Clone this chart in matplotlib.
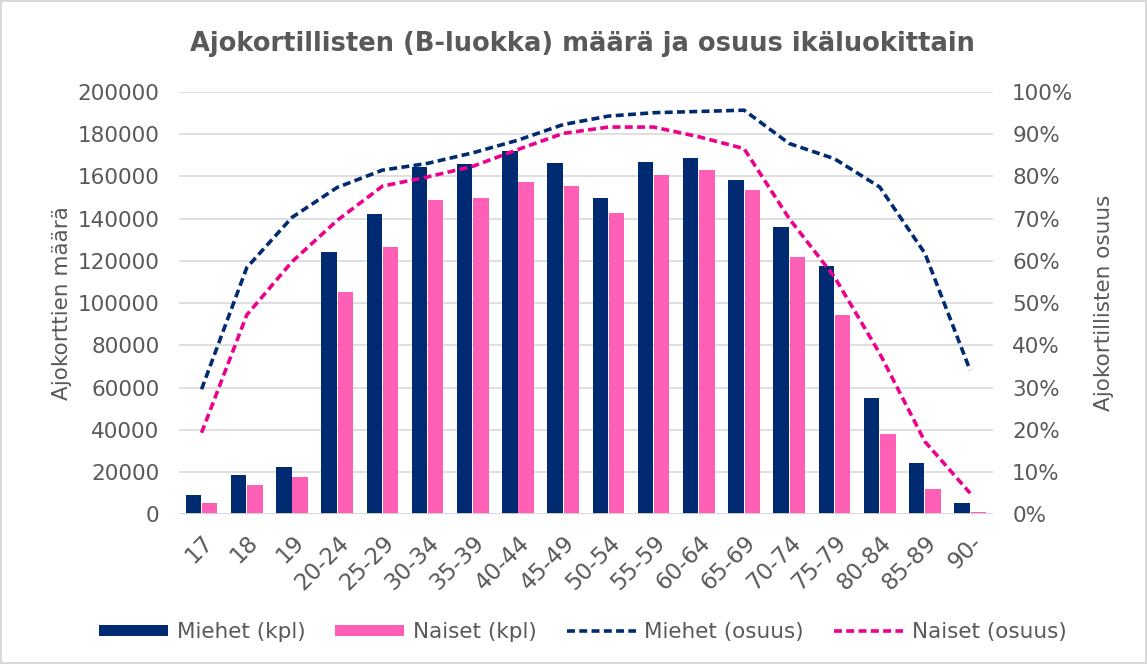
import numpy as np
import matplotlib.pyplot as plt
from matplotlib.ticker import FuncFormatter

# ikäluokat
ages = ['17', '18', '19', '20-24', '25-29', '30-34', '35-39', '40-44', '45-49',
        '50-54', '55-59', '60-64', '65-69', '70-74', '75-79', '80-84', '85-89', '90-']

# ajokorttien määrä (kpl)
men_count = [9100, 18700, 22200, 124000, 142400, 164400, 165800, 171900, 166600,
             150000, 166900, 168600, 158100, 136000, 117400, 54900, 24100, 5200]
women_count = [5500, 13900, 17800, 105400, 126800, 148700, 149800, 157300, 155400,
               142600, 160600, 162900, 153600, 121800, 94200, 38000, 12000, 1100]

# osuus ikäluokasta (%)
men_share = [29.6, 58.4, 70.3, 77.4, 81.5, 83.1, 85.6, 88.6, 92.3,
             94.3, 95.1, 95.4, 95.7, 87.8, 84.2, 77.5, 61.8, 34.1]
women_share = [19.3, 47.2, 59.8, 69.6, 77.7, 79.9, 82.4, 86.4, 90.2,
               91.7, 91.7, 89.4, 86.6, 70.0, 56.2, 38.1, 17.2, 5.0]

NAVY = '#002B73'
PINK_BAR = '#FF5FB4'
PINK_LINE = '#EC008C'
GREY_TXT = '#595959'

fig = plt.figure(figsize=(11.47, 6.64), dpi=100)
fig.patch.set_edgecolor('#D9D9D9')
fig.patch.set_linewidth(1.5)

ax = fig.add_axes([0.156, 0.2255, 0.7095, 0.6359])
ax2 = ax.twinx()

x = np.arange(len(ages))
w = 0.34
ax.bar(x - 0.18, men_count, w, color=NAVY, label='Miehet (kpl)', zorder=3)
ax.bar(x + 0.18, women_count, w, color=PINK_BAR, label='Naiset (kpl)', zorder=3)

ax2.plot(x, men_share, color=NAVY, lw=2.6, ls=(0, (2.2, 1.2)), label='Miehet (osuus)')
ax2.plot(x, women_share, color=PINK_LINE, lw=2.6, ls=(0, (2.2, 1.2)), label='Naiset (osuus)')

ax.set_xlim(-0.5, len(ages) - 0.5)
ax.set_ylim(0, 200000)
ax.set_yticks(np.arange(0, 200001, 20000))
ax2.set_ylim(0, 100)
ax2.set_yticks(np.arange(0, 101, 10))
ax2.yaxis.set_major_formatter(FuncFormatter(lambda v, p: f'{v:.0f}%'))

ax.grid(axis='y', color='#D9D9D9', lw=1.2, zorder=0)
ax.set_axisbelow(True)
for a in (ax, ax2):
    for s in ('top', 'right', 'left', 'bottom'):
        a.spines[s].set_visible(False)
    a.tick_params(length=0, labelsize=15.5, labelcolor=GREY_TXT, pad=14)
ax.axhline(0, color='#D9D9D9', lw=2, zorder=4)

ax.set_xticks(x)
ax.set_xticklabels(ages, rotation=45, ha='right', rotation_mode='anchor', fontsize=16.5)
ax.tick_params(axis='x', pad=12)

ax.set_ylabel('Ajokorttien määrä', fontsize=15.5, color=GREY_TXT, labelpad=4)
ax2.set_ylabel('Ajokortillisten osuus', fontsize=15.5, color=GREY_TXT, labelpad=15)

fig.text(0.508, 0.934, 'Ajokortillisten (B-luokka) määrä ja osuus ikäluokittain',
         ha='center', va='center', fontsize=18.5, fontweight='bold', color=GREY_TXT)

h1, l1 = ax.get_legend_handles_labels()
h2, l2 = ax2.get_legend_handles_labels()
fig.legend(h1 + h2, l1 + l2, loc='center', bbox_to_anchor=(0.508, 0.048), ncol=4,
           frameon=False, fontsize=15.5, labelcolor=GREY_TXT, handlelength=3.2,
           handleheight=0.45, columnspacing=1.4, handletextpad=0.4)

fig.savefig('out.png', dpi=100)
